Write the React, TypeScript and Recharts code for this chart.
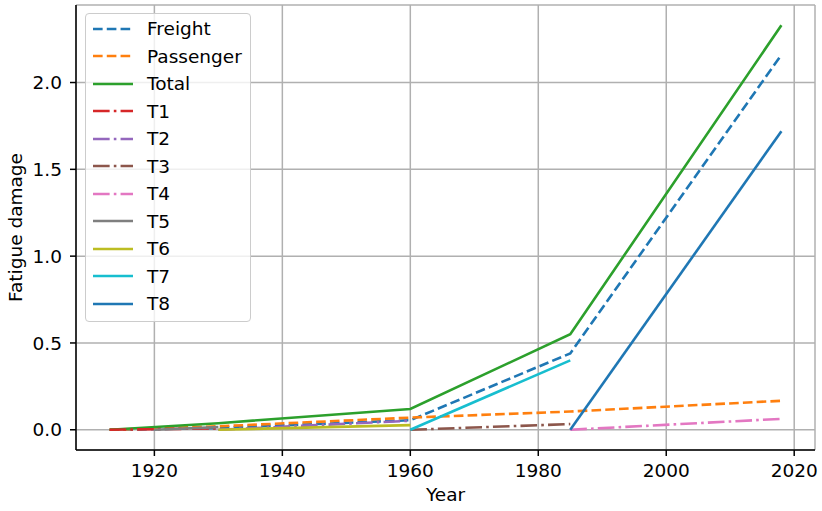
import React from 'react'
import { LineChart, Line, XAxis, YAxis, CartesianGrid, Legend } from 'recharts'

// sample years (1920 only carries the start of T5)
const YEARS = [1913, 1920, 1930, 1960, 1985, 2018]

const FREIGHT = [0, null, 0.01, 0.055, 0.44, 2.16]
const PASSENGER = [0, null, 0.02, 0.07, 0.105, 0.167]
const TOTAL = [0, null, 0.038, 0.12, 0.55, 2.33]
const T1 = [0, null, 0.008, null, null, null]
const T2 = [null, null, 0, 0.052, null, null]
const T3 = [null, null, null, 0, 0.033, null]
const T4 = [null, null, null, null, 0, 0.063]
const T5 = [null, 0, 0.015, null, null, null]
const T6 = [null, null, 0, 0.027, null, null]
const T7 = [null, null, null, 0, 0.4, null]
const T8 = [null, null, null, null, 0, 1.72]

const X_TICKS = [1920, 1940, 1960, 1980, 2000, 2020]
const Y_TICKS = [0, 0.5, 1, 1.5, 2]

const FONT = 'DejaVu Sans, sans-serif'
const FS = 18.5
const LW = 2.6
const DASHED = `${3.7 * LW} ${1.6 * LW}`
const DASH_DOT = `${6.4 * LW} ${1.6 * LW} ${1 * LW} ${1.6 * LW}`

const SERIES = [
    { key: 'freight', name: 'Freight', values: FREIGHT, color: '#1f77b4', dash: DASHED },
    { key: 'passenger', name: 'Passenger', values: PASSENGER, color: '#ff7f0e', dash: DASHED },
    { key: 'total', name: 'Total', values: TOTAL, color: '#2ca02c', dash: undefined },
    { key: 't1', name: 'T1', values: T1, color: '#d62728', dash: DASH_DOT },
    { key: 't2', name: 'T2', values: T2, color: '#9467bd', dash: DASH_DOT },
    { key: 't3', name: 'T3', values: T3, color: '#8c564b', dash: DASH_DOT },
    { key: 't4', name: 'T4', values: T4, color: '#e377c2', dash: DASH_DOT },
    { key: 't5', name: 'T5', values: T5, color: '#7f7f7f', dash: undefined },
    { key: 't6', name: 'T6', values: T6, color: '#bcbd22', dash: undefined },
    { key: 't7', name: 'T7', values: T7, color: '#17becf', dash: undefined },
    { key: 't8', name: 'T8', values: T8, color: '#1f77b4', dash: undefined },
]

const data = YEARS.map((year, i) => {
    const row: Record<string, number | null> = { year }
    SERIES.forEach(s => { row[s.key] = s.values[i] })
    return row
})

const X_DOMAIN = [1907.75, 2023.25]
const Y_DOMAIN = [-0.1165, 2.4465]
const PLOT_TOP = 5
const PLOT_H = 445

function LegendBox() {
    return (
        <div style={{
            background: 'rgba(255,255,255,0.8)',
            border: '1px solid #cccccc',
            borderRadius: 4,
            width: 164,
            padding: '1px 0 3px 0',
            fontFamily: FONT,
            fontSize: FS,
            color: '#000',
        }}>
            {SERIES.map(s => (
                <div key={s.key} style={{ display: 'flex', alignItems: 'center', height: 27.5 }}>
                    <svg width={40} height={10} style={{ marginLeft: 7, marginRight: 14 }}>
                        <line x1={0} y1={5} x2={40} y2={5} stroke={s.color} strokeWidth={LW} strokeDasharray={s.dash} />
                    </svg>
                    <span>{s.name}</span>
                </div>
            ))}
        </div>
    )
}

function YLabel(props: any) {
    const vb = props.viewBox || {}
    const cy = vb.height ? vb.y + vb.height / 2 : PLOT_TOP + PLOT_H / 2
    return (
        <text transform={`translate(15, ${cy}) rotate(-90)`} textAnchor="middle" dominantBaseline="central"
            fontFamily={FONT} fontSize={FS} fill="#000">
            Fatigue damage
        </text>
    )
}

export default function App() {
    const tick = { fill: '#000', fontSize: FS, fontFamily: FONT }
    return (
        <div style={{ width: 822, height: 511, position: 'relative', background: '#fff' }}>
            <style>{'body{margin:0}'}</style>
            <LineChart width={822} height={511} data={data} margin={{ top: PLOT_TOP, right: 7, bottom: 0, left: 0 }}>
                <CartesianGrid stroke="#b0b0b0" strokeWidth={1.5} />
                <XAxis
                    dataKey="year"
                    type="number"
                    domain={X_DOMAIN}
                    ticks={X_TICKS}
                    allowDataOverflow
                    height={61}
                    stroke="#000"
                    strokeWidth={1.5}
                    tickSize={6}
                    tickMargin={8}
                    tick={tick}
                    label={{ value: 'Year', position: 'insideBottom', offset: 10, fill: '#000', fontSize: FS, fontFamily: FONT }}
                />
                <XAxis xAxisId="top" orientation="top" type="number" domain={X_DOMAIN} allowDataOverflow height={0}
                    tick={false} tickLine={false} stroke="#000" strokeWidth={1.5} />
                <YAxis
                    type="number"
                    domain={Y_DOMAIN}
                    ticks={Y_TICKS}
                    allowDataOverflow
                    width={76}
                    stroke="#000"
                    strokeWidth={1.5}
                    tickSize={6}
                    tickMargin={8}
                    tick={tick}
                    tickFormatter={(v: number) => v.toFixed(1)}
                    label={YLabel}
                />
                <YAxis yAxisId="right" orientation="right" type="number" domain={Y_DOMAIN} allowDataOverflow width={0}
                    tick={false} tickLine={false} stroke="#000" strokeWidth={1.5} />
                <Legend
                    layout="vertical"
                    align="center"
                    verticalAlign="middle"
                    wrapperStyle={{ left: 85, top: 13, width: 'auto', height: 'auto' }}
                    content={() => <LegendBox />}
                />
                {SERIES.map(s => (
                    <Line
                        key={s.key}
                        dataKey={s.key}
                        name={s.name}
                        type="linear"
                        stroke={s.color}
                        strokeWidth={LW}
                        strokeDasharray={s.dash}
                        dot={false}
                        activeDot={false}
                        connectNulls
                        isAnimationActive={false}
                    />
                ))}
            </LineChart>
        </div>
    )
}
